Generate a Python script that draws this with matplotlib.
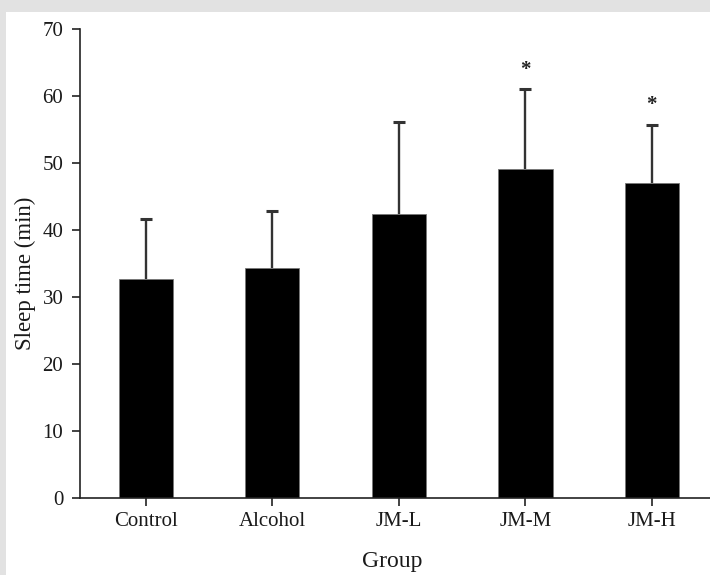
import matplotlib
matplotlib.use("Agg")
import matplotlib.pyplot as plt
from matplotlib.patches import Rectangle
import numpy as np

groups = ["Control", "Alcohol", "JM-L", "JM-M", "JM-H"]
means = [32.7, 34.3, 42.4, 49.1, 47.0]
sd = [9.0, 8.5, 13.7, 11.9, 8.7]
sig = ["", "", "", "*", "*"]
yticks = [0, 10, 20, 30, 40, 50, 60, 70]

plt.rcParams['font.family'] = ['Liberation Serif', 'DejaVu Serif']

W, H = 710, 575
fig = plt.figure(figsize=(W / 100, H / 100), dpi=100)
fig.patch.set_facecolor('#e2e2e2')
bg = Rectangle((6 / W, 0), 1, (H - 12) / H, transform=fig.transFigure,
               facecolor='white', edgecolor='none', zorder=-10)
fig.add_artist(bg)

ax = fig.add_axes([80 / W, (H - 498) / H, 1 - 80 / W, (498 - 29) / H])
ax.set_facecolor('none')
ax.set_zorder(1)

x = list(range(len(groups)))
ax.bar(x, means, width=0.43, color='black', edgecolor='#777777', linewidth=0.6, zorder=2)
eb = ax.errorbar(x, means, yerr=[[0] * len(sd), sd], fmt='none', ecolor='#333333',
                 elinewidth=1.7, capsize=4, capthick=2.2, zorder=1)
for cl in eb[1]:
    if np.allclose(cl.get_ydata(), means):
        cl.set_visible(False)
for xi, m, s, t in zip(x, means, sd, sig):
    if t:
        ax.text(xi, m + s + 2.9, t, ha='center', va='center', fontsize=15,
                fontweight='bold', color='#222222')

ax.set_xlim(-0.52, 4.46)
ax.set_ylim(0, 70)
ax.set_yticks(yticks)
ax.set_xticks(x)
ax.set_xticklabels(groups)

for side in ['top', 'right']:
    ax.spines[side].set_visible(False)
for side in ['left', 'bottom']:
    ax.spines[side].set_linewidth(1.2)
    ax.spines[side].set_color('#222222')

ax.tick_params(axis='both', direction='out', length=6, width=1.2, color='#222222',
               labelsize=15, labelcolor='#1a1a1a')
ax.tick_params(axis='y', pad=6)
ax.tick_params(axis='x', pad=4)

ax.set_ylabel("Sleep time (min)", fontsize=16.5, color='#1a1a1a')
ax.yaxis.set_label_coords(-0.087, 0.48)
ax.set_xlabel("Group", fontsize=17, color='#1a1a1a')
ax.xaxis.set_label_coords(0.495, -0.136)
ax.xaxis.label.set_va('center')
ax.yaxis.label.set_va('center')

fig.savefig("out.png", dpi=100, facecolor=fig.get_facecolor())
